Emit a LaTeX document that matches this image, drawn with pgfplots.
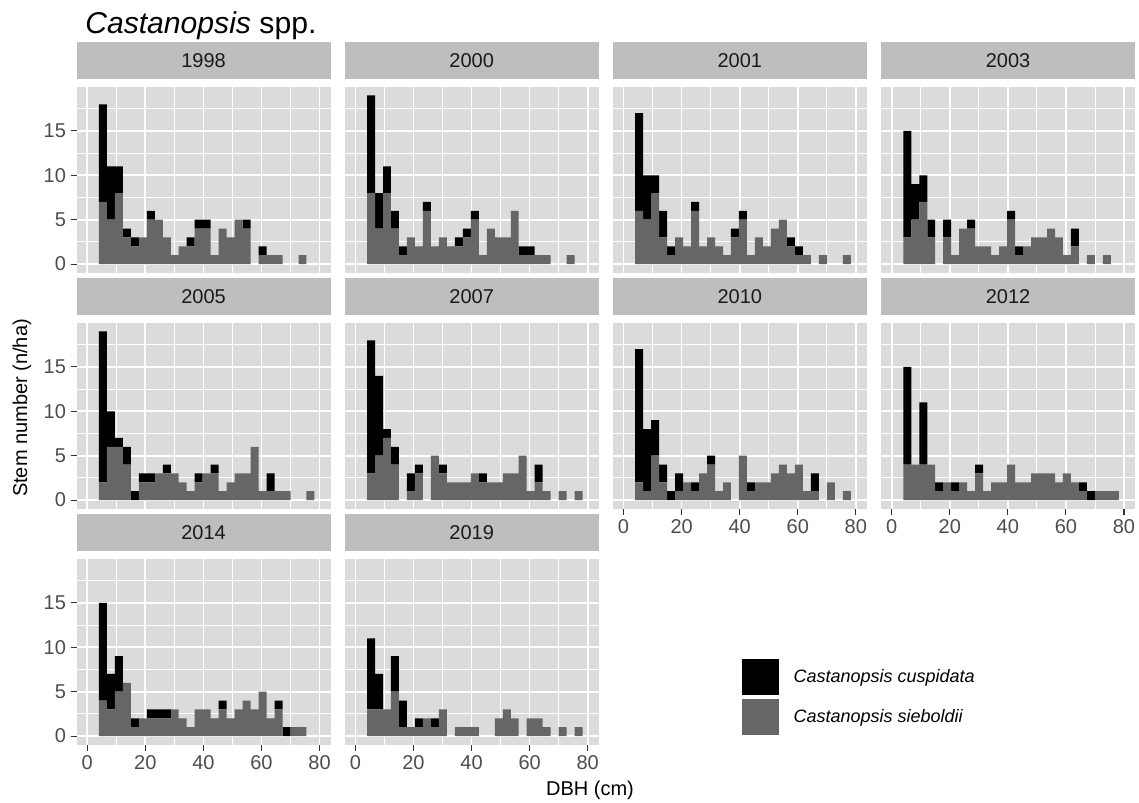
\documentclass[border=0pt]{standalone}
\usepackage{fontspec}
\setmainfont{Liberation Sans}
\usepackage{pgfplots}
\usepackage{pgfplotstable}
\pgfplotsset{compat=1.18}
\definecolor{panelbg}{HTML}{DBDBDB}
\definecolor{stripbg}{HTML}{BEBEBE}
\definecolor{barg}{HTML}{666666}
\definecolor{tickcol}{HTML}{4D4D4D}
\definecolor{tickline}{HTML}{333333}
\definecolor{stripcol}{HTML}{1A1A1A}

% x = bin centre (cm), g = C. sieboldii, b = C. cuspidata
\pgfplotstableread{
x g b
5.375 7 11
8.125 5 6
10.875 8 3
13.625 3 1
16.375 2 1
19.125 3 0
21.875 5 1
24.625 5 0
27.375 3 0
30.125 1 0
32.875 2 0
35.625 2 1
38.375 4 1
41.125 4 1
43.875 1 0
46.625 4 0
49.375 3 0
52.125 5 0
54.875 4 1
57.625 0 0
60.375 1 1
63.125 1 0
65.875 1 0
68.625 0 0
71.375 0 0
74.125 1 0
76.875 0 0
}\tA
\pgfplotstableread{
x g b
5.375 8 11
8.125 4 4
10.875 8 3
13.625 4 2
16.375 1 1
19.125 3 0
21.875 2 0
24.625 6 1
27.375 2 0
30.125 3 0
32.875 2 0
35.625 2 1
38.375 3 1
41.125 5 1
43.875 1 0
46.625 4 0
49.375 3 0
52.125 3 0
54.875 6 0
57.625 1 1
60.375 1 1
63.125 1 0
65.875 1 0
68.625 0 0
71.375 0 0
74.125 1 0
76.875 0 0
}\tB
\pgfplotstableread{
x g b
5.375 6 11
8.125 5 5
10.875 8 2
13.625 3 3
16.375 1 1
19.125 3 0
21.875 2 0
24.625 6 1
27.375 2 0
30.125 3 0
32.875 2 0
35.625 1 0
38.375 3 1
41.125 5 1
43.875 1 0
46.625 3 0
49.375 2 0
52.125 4 0
54.875 5 0
57.625 2 1
60.375 1 1
63.125 1 0
65.875 0 0
68.625 1 0
71.375 0 0
74.125 0 0
76.875 1 0
}\tC
\pgfplotstableread{
x g b
5.375 3 12
8.125 5 4
10.875 7 3
13.625 3 2
16.375 0 0
19.125 3 2
21.875 1 0
24.625 4 0
27.375 4 1
30.125 2 0
32.875 2 0
35.625 1 0
38.375 2 0
41.125 5 1
43.875 1 1
46.625 2 0
49.375 3 0
52.125 3 0
54.875 4 0
57.625 3 0
60.375 1 0
63.125 2 2
65.875 0 0
68.625 1 0
71.375 0 0
74.125 1 0
76.875 0 0
}\tD
\pgfplotstableread{
x g b
5.375 2 17
8.125 6 4
10.875 6 1
13.625 4 2
16.375 0 1
19.125 2 1
21.875 2 1
24.625 3 0
27.375 3 1
30.125 3 0
32.875 2 0
35.625 1 0
38.375 2 1
41.125 3 0
43.875 3 1
46.625 1 0
49.375 2 0
52.125 3 0
54.875 3 0
57.625 6 0
60.375 1 0
63.125 1 2
65.875 1 0
68.625 1 0
71.375 0 0
74.125 0 0
76.875 1 0
}\tE
\pgfplotstableread{
x g b
5.375 3 15
8.125 5 9
10.875 7 1
13.625 4 2
16.375 0 0
19.125 1 2
21.875 3 1
24.625 0 0
27.375 5 0
30.125 3 1
32.875 2 0
35.625 2 0
38.375 2 0
41.125 3 0
43.875 2 1
46.625 2 0
49.375 2 0
52.125 3 0
54.875 3 0
57.625 5 0
60.375 1 0
63.125 2 2
65.875 1 0
68.625 0 0
71.375 1 0
74.125 0 0
76.875 1 0
}\tF
\pgfplotstableread{
x g b
5.375 2 15
8.125 1 7
10.875 5 4
13.625 2 2
16.375 0 1
19.125 1 2
21.875 2 0
24.625 1 1
27.375 3 0
30.125 4 1
32.875 1 0
35.625 2 0
38.375 0 0
41.125 5 0
43.875 1 1
46.625 2 0
49.375 2 0
52.125 3 0
54.875 4 0
57.625 3 0
60.375 4 0
63.125 1 0
65.875 1 2
68.625 0 0
71.375 2 0
74.125 0 0
76.875 1 0
}\tG
\pgfplotstableread{
x g b
5.375 4 11
8.125 4 0
10.875 4 7
13.625 4 0
16.375 1 1
19.125 2 0
21.875 1 1
24.625 2 0
27.375 1 0
30.125 3 1
32.875 1 0
35.625 2 0
38.375 2 0
41.125 4 0
43.875 2 0
46.625 2 0
49.375 3 0
52.125 3 0
54.875 3 0
57.625 2 0
60.375 3 0
63.125 2 0
65.875 1 1
68.625 0 1
71.375 1 0
74.125 1 0
76.875 1 0
}\tH
\pgfplotstableread{
x g b
5.375 4 11
8.125 3 4
10.875 5 4
13.625 6 0
16.375 1 1
19.125 2 0
21.875 2 1
24.625 2 1
27.375 2 1
30.125 3 0
32.875 2 0
35.625 1 0
38.375 3 0
41.125 3 0
43.875 2 0
46.625 3 1
49.375 2 0
52.125 3 0
54.875 4 0
57.625 3 0
60.375 5 0
63.125 2 0
65.875 3 1
68.625 0 1
71.375 1 0
74.125 1 0
76.875 0 0
}\tI
\pgfplotstableread{
x g b
5.375 3 8
8.125 3 4
10.875 3 0
13.625 5 4
16.375 1 3
19.125 1 0
21.875 1 1
24.625 2 0
27.375 1 1
30.125 3 0
32.875 0 0
35.625 1 0
38.375 1 0
41.125 1 0
43.875 0 0
46.625 0 0
49.375 2 0
52.125 3 0
54.875 2 0
57.625 0 0
60.375 2 0
63.125 2 0
65.875 1 0
68.625 0 0
71.375 1 0
74.125 0 0
76.875 1 0
}\tJ

\pgfplotsset{
  panel/.style={
    scale only axis, width=190.5pt, height=139.125pt, anchor=north west,
    xmin=-3.68, xmax=83.8, ymin=-0.95, ymax=19.95,
    axis background/.style={fill=panelbg},
    axis line style={draw=none},
    grid=both,
    major grid style={white, line width=1.3pt},
    minor grid style={white, line width=0.65pt},
    xtick={0,20,40,60,80}, minor xtick={10,30,50,70},
    ytick={0,5,10,15}, minor ytick={2.5,7.5,12.5,17.5},
    tick pos=left, tick align=outside,
    major tick length=4.5pt, minor tick length=0pt,
    xtick style={draw=none}, ytick style={draw=none},
    xticklabels={}, yticklabels={},
    /pgf/number format/assume math mode=true,
    ticklabel style={font=\fontsize{15}{18}\selectfont, text=tickcol},
    ybar stacked, bar width=2.75,
    title style={at={(0.5,1)}, anchor=south, yshift=0pt, fill=stripbg,
      minimum width=190.5pt, minimum height=27.75pt, inner sep=0pt, outer sep=0pt,
      font=\fontsize{15}{18}\selectfont, text=stripcol},
  },
  xlab/.style={xticklabels={0,20,40,60,80}, xtick style={draw=tickline, line width=0.8pt}},
  ylab/.style={yticklabels={0,5,10,15}, ytick style={draw=tickline, line width=0.8pt}},
}

\begin{document}
\begin{tikzpicture}
\useasboundingbox (0,0) rectangle (854.25pt,-602.25pt);

% row 1
\begin{axis}[panel, ylab, at={(57.45pt,-65.25pt)}, title={1998}]
\addplot[fill=barg, draw=none] table[x=x,y=g]{\tA};
\addplot[fill=black, draw=none] table[x=x,y=b]{\tA};
\end{axis}
\begin{axis}[panel, at={(258.55pt,-65.25pt)}, title={2000}]
\addplot[fill=barg, draw=none] table[x=x,y=g]{\tB};
\addplot[fill=black, draw=none] table[x=x,y=b]{\tB};
\end{axis}
\begin{axis}[panel, at={(459.65pt,-65.25pt)}, title={2001}]
\addplot[fill=barg, draw=none] table[x=x,y=g]{\tC};
\addplot[fill=black, draw=none] table[x=x,y=b]{\tC};
\end{axis}
\begin{axis}[panel, at={(660.75pt,-65.25pt)}, title={2003}]
\addplot[fill=barg, draw=none] table[x=x,y=g]{\tD};
\addplot[fill=black, draw=none] table[x=x,y=b]{\tD};
\end{axis}

% row 2
\begin{axis}[panel, ylab, at={(57.45pt,-242.25pt)}, title={2005}]
\addplot[fill=barg, draw=none] table[x=x,y=g]{\tE};
\addplot[fill=black, draw=none] table[x=x,y=b]{\tE};
\end{axis}
\begin{axis}[panel, at={(258.55pt,-242.25pt)}, title={2007}]
\addplot[fill=barg, draw=none] table[x=x,y=g]{\tF};
\addplot[fill=black, draw=none] table[x=x,y=b]{\tF};
\end{axis}
\begin{axis}[panel, xlab, at={(459.65pt,-242.25pt)}, title={2010}]
\addplot[fill=barg, draw=none] table[x=x,y=g]{\tG};
\addplot[fill=black, draw=none] table[x=x,y=b]{\tG};
\end{axis}
\begin{axis}[panel, xlab, at={(660.75pt,-242.25pt)}, title={2012}]
\addplot[fill=barg, draw=none] table[x=x,y=g]{\tH};
\addplot[fill=black, draw=none] table[x=x,y=b]{\tH};
\end{axis}

% row 3
\begin{axis}[panel, xlab, ylab, at={(57.45pt,-419.25pt)}, title={2014}]
\addplot[fill=barg, draw=none] table[x=x,y=g]{\tI};
\addplot[fill=black, draw=none] table[x=x,y=b]{\tI};
\end{axis}
\begin{axis}[panel, xlab, at={(258.55pt,-419.25pt)}, title={2019},
  reverse legend,
  legend image code/.code={\fill[#1] (0pt,-13.5pt) rectangle (27.75pt,13.5pt);},
  legend style={at={(1.564,0.461)}, anchor=north west, draw=none, fill=none,
    inner sep=0pt, outer sep=0pt, row sep=3pt,
    font=\fontsize{13.5}{16}\selectfont, cells={anchor=west},
    /tikz/every odd column/.append style={column sep=9pt}}]
\addplot[fill=barg, draw=none] table[x=x,y=g]{\tJ};
\addlegendentry{\textit{Castanopsis sieboldii}}
\addplot[fill=black, draw=none] table[x=x,y=b]{\tJ};
\addlegendentry{\textit{Castanopsis cuspidata}}
\end{axis}

\node[anchor=base west, font=\fontsize{22.6}{27}\selectfont, inner sep=0pt] at (63.75pt,-25pt) {\textit{Castanopsis} spp.};
\node[rotate=90, font=\fontsize{15}{18}\selectfont, inner sep=0pt] at (16.5pt,-306pt) {Stem number (n/ha)};
\node[font=\fontsize{15}{18}\selectfont, inner sep=0pt] at (442.5pt,-592.5pt) {DBH (cm)};
\end{tikzpicture}
\end{document}
